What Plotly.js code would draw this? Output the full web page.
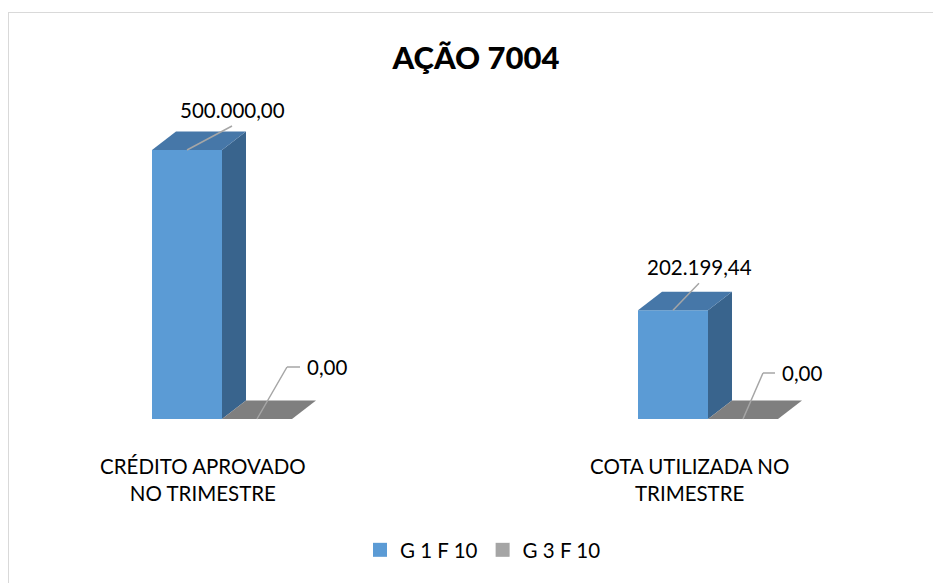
<!DOCTYPE html>
<html>
<head>
<meta charset="utf-8">
<script src="https://cdn.plot.ly/plotly-3.0.1.min.js"></script>
<style>
  html, body { margin: 0; padding: 0; background: #fff; }
  #wrap { position: relative; width: 933px; height: 583px; overflow: hidden; }
  #chart { position: absolute; left: 0; top: 0; width: 933px; height: 583px; }
  #frame { position: absolute; left: 8px; top: 12px; width: 1000px; height: 1000px;
           border-top: 1.5px solid #d9d9d9; border-left: 1.5px solid #d9d9d9;
           pointer-events: none; z-index: 5; }
</style>
</head>
<body>
<div id="wrap"><div id="chart"></div><div id="frame"></div></div>
<script>
// ---- data ----
const chartTitle = 'AÇÃO 7004';
const categories = ['CRÉDITO APROVADO<br>NO TRIMESTRE', 'COTA UTILIZADA NO<br>TRIMESTRE'];
const seriesNames = ['G 1 F 10', 'G 3 F 10'];
const g1f10 = [500000.00, 202199.44];
const g3f10 = [0.00, 0.00];

// ---- style / geometry ----
const FONT = 'Lato, "Noto Sans", sans-serif';
const frontColors = ['#5b9bd5', '#a5a5a5'];
const topColors = ['#4677a8', '#7f7f7f'];
const sideColors = ['#39648d', '#6e6e6e'];
const pxPerX = 486;                 // pixels per category unit
const pxPerY = 269 / 500000;        // pixels per value unit
const baseX = 222, baseY = 419;     // pixel position of category 0 / value 0
const W = 583, Wd = 933;
const barW = 70 / pxPerX;
const depthX = 24 / pxPerX;
const depthY = 18.5 / pxPerY;
const xRange = [-baseX / pxPerX, (Wd - baseX) / pxPerX];
const yRange = [-(W - baseY) / pxPerY, baseY / pxPerY];
const valueLeader = [{ax: 45, ay: -24}, {ax: 26, ay: -27}];
const zeroLeader = [{ax: 30, ay: -52, ex: 13}, {ax: 20, ay: -46, ex: 12}];

function fmtBR(v) {
  const parts = v.toFixed(2).split('.');
  const int = parts[0].replace(/\B(?=(\d{3})+(?!\d))/g, '.');
  return int + ',' + parts[1];
}

const series = [g1f10, g3f10];
const xs = categories.map((_, i) => i);
const traces = [];

// front faces (bars)
series.forEach((vals, s) => {
  traces.push({
    type: 'bar', x: xs, y: vals, name: seriesNames[s], legendgroup: 's' + s, showlegend: false,
    width: barW, offset: s === 0 ? -barW : 0,
    marker: {color: frontColors[s], line: {width: 0}},
    hoverinfo: 'skip'
  });
});

// depth faces (side + top), computed from the values
series.forEach((vals, s) => {
  vals.forEach((v, i) => {
    const x0 = s === 0 ? i - barW : i;
    const x1 = x0 + barW;
    if (v > 0) {
      traces.push({
        type: 'scatter', mode: 'lines', fill: 'toself', showlegend: false, hoverinfo: 'skip',
        x: [x1, x1 + depthX, x1 + depthX, x1, x1],
        y: [0, depthY, v + depthY, v, 0],
        fillcolor: sideColors[s], line: {width: 0, color: sideColors[s]}
      });
    }
    traces.push({
      type: 'scatter', mode: 'lines', fill: 'toself', showlegend: false, hoverinfo: 'skip',
      x: [x0, x0 + depthX, x1 + depthX, x1, x0],
      y: [v, v + depthY, v + depthY, v, v],
      fillcolor: topColors[s], line: {width: 0, color: topColors[s]}
    });
  });
});

// legend entries (square swatches, as in the original legend)
series.forEach((vals, s) => {
  traces.push({
    type: 'scatter', mode: 'markers', x: [null], y: [null], name: seriesNames[s],
    legendgroup: 's' + s, showlegend: true, hoverinfo: 'skip',
    marker: {symbol: 'square', size: 14, color: frontColors[s]}
  });
});

const annotations = [];
const lblFont = {family: FONT, size: 20.5, color: '#000'};
const leaderColor = '#a6a6a6';

// value labels for G 1 F 10
g1f10.forEach((v, i) => {
  annotations.push({
    x: i - barW / 2, y: v, xref: 'x', yref: 'y', text: fmtBR(v),
    showarrow: true, arrowhead: 0, arrowwidth: 1.5, arrowcolor: leaderColor, standoff: 0,
    ax: valueLeader[i].ax, ay: valueLeader[i].ay, xanchor: 'center', yanchor: 'bottom',
    borderpad: 3, font: lblFont
  });
});
// value labels for G 3 F 10 (elbow leader)
g3f10.forEach((v, i) => {
  const L = zeroLeader[i];
  annotations.push({
    x: i + barW / 2, y: v, xref: 'x', yref: 'y', text: ' ',
    showarrow: true, arrowhead: 0, arrowwidth: 1.5, arrowcolor: leaderColor, standoff: 0,
    ax: L.ax, ay: L.ay, xanchor: 'left', yanchor: 'middle', font: lblFont
  });
  annotations.push({
    x: i + barW / 2, y: v, xref: 'x', yref: 'y', text: fmtBR(v),
    xshift: L.ax, yshift: -L.ay,
    showarrow: true, arrowhead: 0, arrowwidth: 1.5, arrowcolor: leaderColor, standoff: 0,
    ax: L.ex, ay: 0, xanchor: 'left', yanchor: 'middle', borderpad: 6, font: lblFont
  });
});
// category labels
categories.forEach((c, i) => {
  annotations.push({
    x: i, y: 1 - 479 / W, xref: 'x', yref: 'paper', text: c, showarrow: false,
    xshift: -19, xanchor: 'center', yanchor: 'middle', align: 'center', font: lblFont
  });
});

const layout = {
  width: Wd, height: W, autosize: false,
  margin: {l: 0, r: 0, t: 0, b: 0, pad: 0},
  paper_bgcolor: '#fff', plot_bgcolor: '#fff',
  title: {text: chartTitle, x: 476 / Wd, xanchor: 'center', y: 1 - 58 / W, yanchor: 'middle',
          font: {family: FONT, size: 31, color: '#000', weight: 900}},
  xaxis: {range: xRange, visible: false, fixedrange: true},
  yaxis: {range: yRange, visible: false, fixedrange: true},
  showlegend: true,
  legend: {orientation: 'h', x: 483 / Wd, xanchor: 'center', y: 1 - 550 / W, yanchor: 'middle',
           font: {family: FONT, size: 20.5, color: '#000'}, bgcolor: 'rgba(0,0,0,0)',
           traceorder: 'normal', itemwidth: 30},
  annotations: annotations,
  barmode: 'overlay'
};

Plotly.newPlot('chart', traces, layout, {displayModeBar: false, staticPlot: true});
</script>
</body>
</html>
